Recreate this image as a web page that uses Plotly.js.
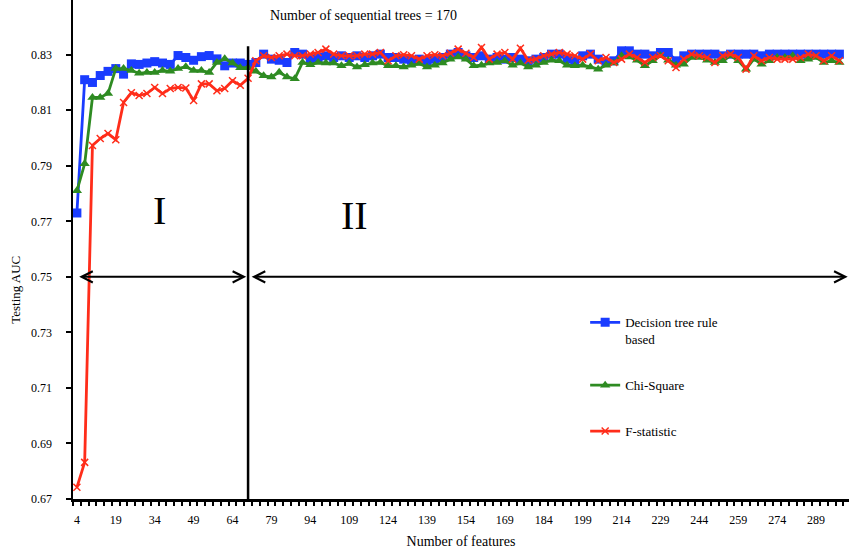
<!DOCTYPE html>
<html>
<head>
<meta charset="utf-8">
<script src="https://cdn.plot.ly/plotly-3.0.1.min.js"></script>
<style>html,body{margin:0;padding:0;background:#fff;}#chart{width:849px;height:551px;}</style>
</head>
<body>
<div id="chart"></div>
<script>
// Number of features (x categories)
var features = [4,7,10,13,16,19,22,25,28,31,34,37,40,43,46,49,52,55,58,61,64,67,70,
  73,76,79,82,85,88,91,94,97,100,103,106,109,112,115,118,121,124,127,130,133,136,139,142,145,148,
  151,154,157,160,163,166,169,172,175,178,181,184,187,190,193,196,199,202,205,208,211,214,217,220,
  223,226,229,232,235,238,241,244,247,250,253,256,259,262,265,268,271,274,277,280,283,286,289,292,295,298];

var tickLabels = [4,19,34,49,64,79,94,109,124,139,154,169,184,199,214,229,244,259,274,289];

var decisionTree = [0.773,0.821,0.820,0.8225,0.824,0.825,0.823,0.8267,0.8265,0.827,0.8275,0.827,0.8265,0.8297,0.829,0.828,0.8293,0.8297,0.8285,0.826,0.827,0.827,0.8265,
  0.8272,0.8302,0.8284,0.828,0.8272,0.8308,0.8302,0.8284,0.829,0.8296,0.829,0.8296,0.829,0.8296,0.829,0.8296,0.8302,0.829,
  0.829,0.8284,0.828,0.8284,0.8278,0.8284,0.829,0.8302,0.8308,0.8296,0.829,0.8296,0.8284,0.829,0.8284,0.829,0.8284,0.8278,0.8284,0.829,
  0.8302,0.8302,0.8284,0.8278,0.8296,0.8302,0.8284,0.8272,0.8278,0.8314,0.8314,0.8302,0.8302,0.8296,0.8308,0.8308,0.8278,0.8296,0.8302,0.8302,
  0.8302,0.8302,0.8296,0.8302,0.8302,0.8302,0.8302,0.8296,0.8302,0.8302,0.8302,0.8302,0.8302,0.8302,0.8302,0.8302,0.8302,0.8302];

var chiSquare = [0.781,0.7907,0.8146,0.8146,0.816,0.825,0.825,0.8243,0.8233,0.8236,0.8236,0.8243,0.824,0.825,0.8257,0.8243,0.8243,0.8236,0.8272,0.8285,0.827,0.8253,0.8253,
  0.824,0.8224,0.822,0.8237,0.822,0.8213,0.8272,0.8264,0.8272,0.827,0.827,0.826,0.8268,0.8256,0.8264,0.827,0.8272,0.826,
  0.826,0.8256,0.8262,0.8268,0.8256,0.8262,0.827,0.8284,0.8292,0.8284,0.826,0.8262,0.827,0.8272,0.8278,0.8262,0.827,0.8256,0.8262,0.8272,
  0.828,0.8278,0.8262,0.826,0.8262,0.8256,0.8248,0.8262,0.827,0.8296,0.8292,0.828,0.826,0.8278,0.8296,0.828,0.8262,0.8266,0.829,0.829,
  0.828,0.8272,0.8278,0.8296,0.8278,0.8248,0.8284,0.8266,0.8278,0.829,0.829,0.8296,0.8278,0.8284,0.829,0.8272,0.8278,0.8272];

var fStatistic = [0.6742,0.6832,0.7973,0.7998,0.8016,0.7994,0.8128,0.8163,0.8153,0.816,0.8182,0.816,0.8178,0.8182,0.818,0.8135,0.8195,0.8195,0.817,0.8178,0.8206,0.819,0.8215,
  0.8278,0.8296,0.829,0.8296,0.8302,0.8296,0.8296,0.8302,0.8308,0.832,0.8302,0.8296,0.8296,0.8296,0.8302,0.8302,0.8308,0.8278,
  0.8296,0.83,0.8296,0.8284,0.8296,0.830,0.8296,0.8305,0.832,0.8305,0.829,0.8326,0.8284,0.8302,0.8308,0.8284,0.8323,0.828,0.8284,0.8296,
  0.8302,0.8308,0.8302,0.8296,0.8284,0.8302,0.8278,0.829,0.8272,0.8284,0.8302,0.829,0.8272,0.829,0.8296,0.8278,0.8254,0.8284,0.8302,0.8296,
  0.829,0.8272,0.8296,0.8302,0.829,0.8248,0.8296,0.8278,0.829,0.8284,0.8284,0.8284,0.829,0.8302,0.8296,0.8278,0.8296,0.8278];

var seriesNames = ['Decision tree rule<br>based', 'Chi-Square', 'F-statistic'];
var seriesColors = ['#1a3cff', '#2e8b22', '#ff2d1a'];

var serif = 'Liberation Serif, Times New Roman, serif';

var traces = [
  {x: features, y: decisionTree, name: seriesNames[0], type: 'scatter', mode: 'lines+markers',
   line: {color: seriesColors[0], width: 2.8}, marker: {symbol: 'square', size: 9, color: seriesColors[0]}, legendgroup: 'a'},
  {x: features, y: chiSquare, name: seriesNames[1], type: 'scatter', mode: 'lines+markers',
   line: {color: seriesColors[1], width: 2.8}, marker: {symbol: 'triangle-up', size: 9, color: seriesColors[1]}, legendgroup: 'b'},
  {x: features, y: fStatistic, name: seriesNames[2], type: 'scatter', mode: 'lines+markers',
   line: {color: seriesColors[2], width: 2.8}, marker: {symbol: 'x-thin', size: 7, line: {color: seriesColors[2], width: 1.5}}, legendgroup: 'c'}
];

var layout = {
  width: 849, height: 551,
  margin: {l: 73, r: 0, t: 0, b: 52},
  paper_bgcolor: '#fff', plot_bgcolor: '#fff',
  font: {family: serif, color: '#000', size: 12},
  showlegend: true,
  legend: {x: 0.66, y: 0.384, xanchor: 'left', yanchor: 'top', bgcolor: 'rgba(0,0,0,0)',
    font: {family: serif, size: 13, color: '#000'}, itemwidth: 30, tracegroupgap: 26,
    traceorder: 'grouped', valign: 'top'},
  xaxis: {
    range: [2.5, 301.7], tickmode: 'array', tickvals: tickLabels, ticktext: tickLabels.map(String),
    ticks: '', showgrid: false, zeroline: false, showline: true, linecolor: '#000', linewidth: 2.5,
    ticklabelstandoff: 8, tickfont: {family: serif, size: 12},
    minor: {tickmode: 'linear', tick0: 2.5, dtick: 3, ticks: 'outside', ticklen: 4, tickwidth: 2, tickcolor: '#000', showgrid: false},
    title: {text: 'Number of features', font: {family: serif, size: 14}, standoff: 11}
  },
  yaxis: {
    range: [0.67, 0.8497], tick0: 0.67, dtick: 0.02, tickformat: '.2f',
    ticks: 'outside', ticklen: 5, tickwidth: 2, tickcolor: '#000',
    showgrid: false, zeroline: false, showline: true, linecolor: '#000', linewidth: 2.5,
    ticklabelstandoff: 11, tickfont: {family: serif, size: 12}
  },
  shapes: [
    {type: 'line', xref: 'x', yref: 'y', x0: 70, x1: 70, y0: 0.67, y1: 0.833, line: {color: '#000', width: 2.5}}
  ],
  annotations: [
    {xref: 'x', yref: 'y', x: 69.3, y: 0.75, ax: 4.3, ay: 0.75, axref: 'x', ayref: 'y', text: '', showarrow: true,
     arrowhead: 5, startarrowhead: 5, arrowside: 'end+start', arrowsize: 1.1, arrowwidth: 2, arrowcolor: '#000'},
    {xref: 'x', yref: 'y', x: 301.2, y: 0.75, ax: 70.8, ay: 0.75, axref: 'x', ayref: 'y', text: '', showarrow: true,
     arrowhead: 5, startarrowhead: 5, arrowside: 'end+start', arrowsize: 1.1, arrowwidth: 2, arrowcolor: '#000'},
    {xref: 'x', yref: 'y', x: 36, y: 0.774, text: 'I', showarrow: false, font: {family: serif, size: 40, color: '#000'}},
    {xref: 'x', yref: 'y', x: 111, y: 0.772, text: 'II', showarrow: false, font: {family: serif, size: 40, color: '#000'}},
    {xref: 'paper', yref: 'paper', x: (363 - 73) / 776, y: (499 - 15) / 499, xanchor: 'center', yanchor: 'middle',
     text: 'Number of sequential trees = 170', showarrow: false, font: {family: serif, size: 14, color: '#000'}},
    {xref: 'paper', yref: 'paper', x: -0.075, y: (499 - 290) / 499, xanchor: 'center', yanchor: 'middle', textangle: -90,
     text: 'Testing AUC', showarrow: false, font: {family: serif, size: 13, color: '#000'}}
  ]
};

Plotly.newPlot('chart', traces, layout, {displayModeBar: false, staticPlot: true});
</script>
</body>
</html>
